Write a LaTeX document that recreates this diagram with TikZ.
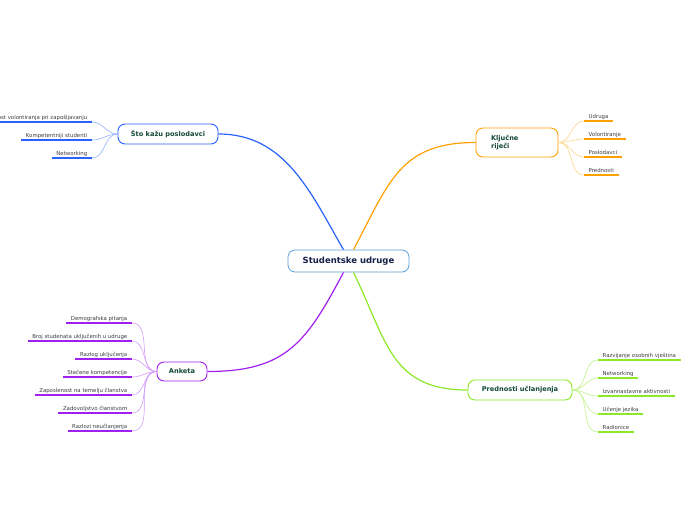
\documentclass[tikz,border=0pt]{standalone}
\usepackage{fontspec}
\setmainfont{DejaVu Sans}
\usepackage{xcolor}
\usepackage{tikz}
\usetikzlibrary{positioning}

\definecolor{brblue}{RGB}{41,98,255}
\definecolor{brorange}{RGB}{255,160,0}
\definecolor{brpurple}{RGB}{160,32,240}
\definecolor{brgreen}{RGB}{140,232,40}
\definecolor{rootline}{RGB}{90,160,220}
\definecolor{rootink}{RGB}{20,30,70}
\definecolor{topicink}{RGB}{20,72,52}
\definecolor{leafink}{RGB}{60,60,60}

\begin{document}
\begin{tikzpicture}[
    x=1pt, y=-1pt,
    root/.style={draw=rootline, line width=0.8pt, rounded corners=7pt, fill=white,
                 minimum width=121pt, minimum height=22pt, inner sep=0pt,
                 font=\fontsize{8.5}{10}\selectfont\bfseries, text=rootink},
    topic/.style={line width=0.9pt, rounded corners=7pt, fill=white, inner sep=0pt,
                  minimum height=20pt, font=\fontsize{6.6}{7.8}\selectfont\bfseries, text=topicink},
    leaf/.style={font=\fontsize{5.4}{6.4}\selectfont, text=leafink, inner xsep=4.5pt, inner ysep=1.6pt,
                 text height=3.9pt, text depth=1.2pt},
    branch/.style={line width=1.2pt},
    twig/.style={line width=0.6pt},
    under/.style={line width=1.3pt}
]
\useasboundingbox (0,0) rectangle (696,520);

% Centre and main topics.
\node[root] (root) at (348.5,261) {Studentske udruge};
\node[topic, draw=brblue, minimum width=100pt] (sto) at (168,134) {Što kažu poslodavci};
\node[topic, draw=brorange, minimum height=29pt, text width=52pt, align=left, inner xsep=15pt]
      (kljuc) at (517,142.5) {Ključne\\riječi};
\node[topic, draw=brpurple, minimum width=50pt, minimum height=19pt] (anketa) at (182,371.5) {Anketa};
\node[topic, draw=brgreen, minimum width=104pt] (pred) at (520,390) {Prednosti učlanjenja};

\draw[branch, brblue] ([xshift=-5pt]root.north) to[out=120, in=0] (sto.east);
\draw[branch, brorange] ([xshift=5pt]root.north) to[out=62, in=180, looseness=1.2] (kljuc.west);
\draw[branch, brpurple] ([xshift=-5pt]root.south) to[out=-118, in=0, looseness=1.2] (anketa.east);
\draw[branch, brgreen] ([xshift=5pt]root.south) to[out=-64, in=180, looseness=1.2] (pred.west);

% Što kažu poslodavci: leaves.
\node[leaf, anchor=south east] (s1) at (92,122) {Važnost volontiranja pri zapošljavanju};
\node[leaf, anchor=south east] (s2) at (92,140) {Kompetentniji studenti};
\node[leaf, anchor=south east] (s3) at (92,158) {Networking};
\foreach \n in {s1,s2,s3} {
    \draw[under, brblue] (\n.south west) -- (\n.south east);
    \draw[twig, brblue!50] (sto.west) to[out=180, in=0] (\n.south east);
}

% Ključne riječi: leaves.
\node[leaf, anchor=south west] (k1) at (584,121) {Udruga};
\node[leaf, anchor=south west] (k2) at (584,139) {Volontiranje};
\node[leaf, anchor=south west] (k3) at (584,157) {Poslodavci};
\node[leaf, anchor=south west] (k4) at (584,175) {Prednosti};
\foreach \n in {k1,k2,k3,k4} {
    \draw[under, brorange] (\n.south west) -- (\n.south east);
    \draw[twig, brorange!45] (kljuc.east) to[out=0, in=180] (\n.south west);
}

% Anketa: leaves.
\node[leaf, anchor=south east] (a1) at (132,323) {Demografska pitanja};
\node[leaf, anchor=south east] (a2) at (132,341) {Broj studenata uključenih u udruge};
\node[leaf, anchor=south east] (a3) at (132,359) {Razlog uključenja};
\node[leaf, anchor=south east] (a4) at (132,377) {Stečene kompetencije};
\node[leaf, anchor=south east] (a5) at (132,395) {Zaposlenost na temelju članstva};
\node[leaf, anchor=south east] (a6) at (132,413) {Zadovoljstvo članstvom};
\node[leaf, anchor=south east] (a7) at (132,431) {Razlozi neučlanjenja};
\foreach \n in {a1,a2,a3,a4,a5,a6,a7} {
    \draw[under, brpurple] (\n.south west) -- (\n.south east);
    \draw[twig, brpurple!45] (anketa.west) to[out=180, in=0] (\n.south east);
}

% Prednosti učlanjenja: leaves.
\node[leaf, anchor=south west] (p1) at (598,360) {Razvijanje osobnih vještina};
\node[leaf, anchor=south west] (p2) at (598,378) {Networking};
\node[leaf, anchor=south west] (p3) at (598,396) {Izvannastavne aktivnosti};
\node[leaf, anchor=south west] (p4) at (598,414) {Učenje jezika};
\node[leaf, anchor=south west] (p5) at (598,432) {Radionice};
\foreach \n in {p1,p2,p3,p4,p5} {
    \draw[under, brgreen] (\n.south west) -- (\n.south east);
    \draw[twig, brgreen!55] (pred.east) to[out=0, in=180] (\n.south west);
}

\end{tikzpicture}
\end{document}
